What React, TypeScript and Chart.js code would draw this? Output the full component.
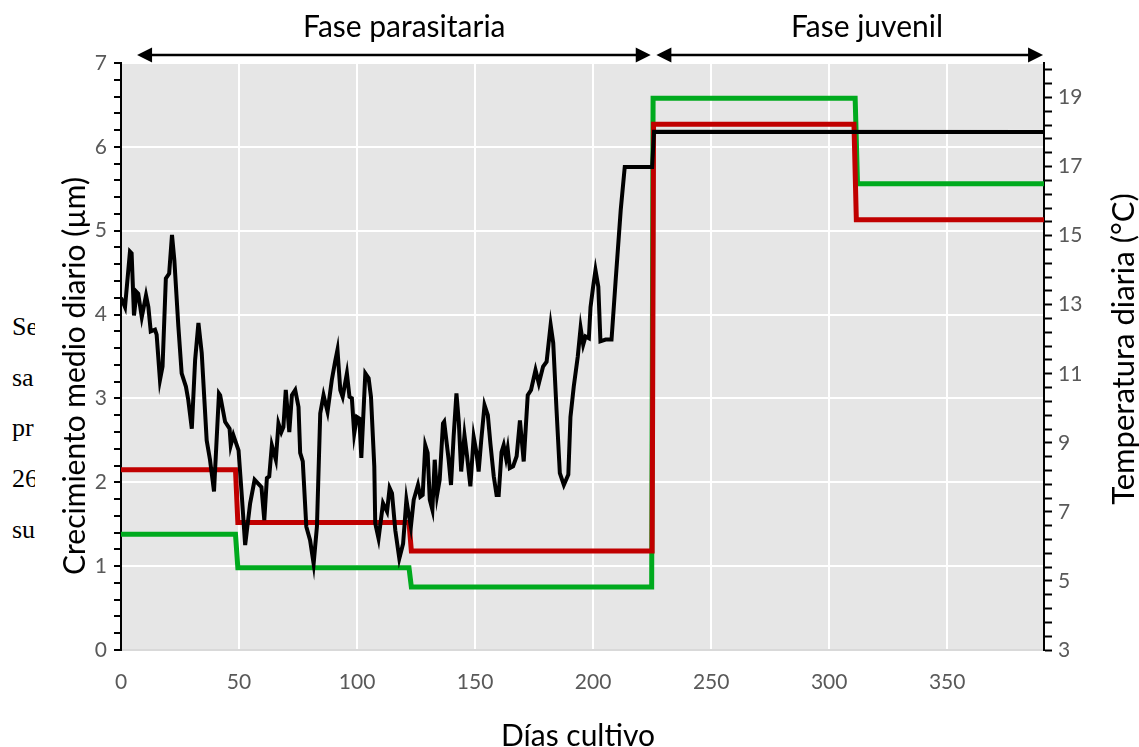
import React, { useEffect, useRef } from 'react';
import { Chart, registerables } from 'chart.js';

Chart.register(...registerables);

// ---- axis ticks ----
const dayTicks = [0, 50, 100, 150, 200, 250, 300, 350];
const growthTicks = [0, 1, 2, 3, 4, 5, 6, 7];
const tempTicks = [3, 5, 7, 9, 11, 13, 15, 17, 19];
const growthMinorStep = 0.2;
const tempMinorStep = 0.4;
const dayMax = 391;

// ---- daily temperature (°C), right axis ----
const tempDays = [
  0, 1.7, 3.8, 4.5, 5.5, 6.6, 7.3, 8.8, 10.6, 11.6, 12.6, 14.4, 15.1, 16.5, 17.6, 19, 20.4, 21.6, 22.6, 24.3,
  25.7, 27.5, 28.5, 30, 31.4, 32.8, 34.2, 36.3, 37.7, 39.4, 41.5, 42, 44.1, 46, 46.5, 47.6, 49.8, 51.2, 52.6, 54.7,
  56.6, 59.5, 60.7, 61.8, 62.8, 63.9, 65.6, 66.7, 67.9, 68.8, 69.8, 71.3, 72.4, 73.8, 75.2, 75.9, 77, 78.5, 80.1, 81.6,
  83, 84.4, 85.8, 87.5, 89.3, 90.7, 91.7, 92.9, 93.9, 95.7, 96.8, 97.8, 98.8, 99.9, 101, 101.8, 103.5, 104.9, 105.9, 107.3,
  107.7, 109.1, 111, 112.7, 113.8, 114.8, 116.2, 117.9, 119.5, 120.9, 121.9, 122.8, 124, 125.8, 126.8, 127.8, 128.9, 129.9, 130.8, 131.9,
  132.9, 133.9, 135, 136.4, 136.9, 138.8, 139.8, 140.9, 142.1, 143.1, 144.1, 145.5, 146.6, 148, 149.4, 150.6, 151.5, 152.6, 154, 155.4,
  156.5, 157.9, 159.1, 160, 161.2, 162.1, 163.1, 163.8, 164.7, 166.1, 167.6, 169, 170.6, 172.3, 173.7, 175.6, 177, 178.8, 180.3, 182,
  183.1, 184.5, 185.9, 187.6, 189.5, 190.4, 191.8, 193.5, 194.7, 195.8, 196.8, 198.2, 198.9, 200, 201, 202.2, 203.1, 205.3, 207.8, 209.5,
  211.7, 213.4, 225, 225.8, 391,
];
const tempValues = [
  13.2, 12.93, 14.54, 14.49, 12.69, 13.37, 13.32, 12.64, 13.27, 12.93, 12.23, 12.28, 12.13, 10.82, 11.21, 13.76, 13.9, 15.02, 14.29, 12.37,
  11.01, 10.63, 10.24, 9.41, 11.4, 12.47, 11.6, 9.07, 8.51, 7.59, 10.43, 10.38, 9.61, 9.41, 8.93, 9.22, 8.78, 7.44, 6.04, 7.25,
  7.93, 7.72, 6.76, 7.98, 8.03, 8.93, 8.51, 9.56, 9.31, 9.46, 10.53, 9.31, 10.38, 10.53, 10.04, 8.71, 8.46, 6.57, 6.18, 5.5,
  6.57, 9.85, 10.38, 9.9, 10.82, 11.35, 11.69, 10.53, 10.33, 11.01, 10.33, 10.29, 9.27, 9.75, 9.7, 8.56, 11.01, 10.87, 10.33, 8.32,
  6.67, 6.23, 7.25, 7.01, 7.69, 7.54, 6.47, 5.65, 6.08, 7.35, 6.91, 6.57, 7.35, 7.78, 7.44, 7.49, 8.93, 8.71, 7.35, 7.06,
  8.51, 7.49, 7.93, 9.56, 9.61, 8.51, 7.78, 9.17, 10.43, 9.61, 8.17, 9.22, 8.61, 7.74, 9.17, 8.71, 8.17, 9.07, 10.09, 9.8,
  8.97, 8.03, 7.49, 7.49, 8.73, 8.93, 8.56, 8.83, 8.27, 8.32, 8.61, 9.65, 8.46, 10.38, 10.53, 11.11, 10.72, 11.21, 11.35, 12.42,
  11.89, 9.95, 8.12, 7.78, 8.08, 9.75, 10.63, 11.5, 12.33, 11.84, 12.08, 12.03, 12.93, 13.52, 14.0, 13.52, 11.94, 11.99, 11.99, 13.66,
  15.75, 16.99, 16.99, 18.01, 18.0,
];

// ---- daily mean growth (µm), left axis ----
const redDays = [0, 48.5, 49.5, 122, 123, 225, 225.6, 310.5, 311.5, 391];
const redGrowth = [2.15, 2.15, 1.52, 1.52, 1.18, 1.18, 6.27, 6.27, 5.13, 5.13];
const greenDays = [0, 48.5, 49.5, 122, 123, 224.8, 225.4, 311, 312, 391];
const greenGrowth = [1.38, 1.38, 0.98, 0.98, 0.75, 0.75, 6.58, 6.58, 5.56, 5.56];

const phaseLabels = ['Fase parasitaria', 'Fase juvenil'];
const phaseFrom = [6.8, 226.8];
const phaseTo = [224.4, 390.6];
const phaseLabelAt = [120, 316];

const xTitle = 'Días cultivo';
const yTitle = 'Crecimiento medio diario (µm)';
const y2Title = 'Temperatura diaria (°C)';

const sideText = ['Se', 'sa', 'pr', '26', 'su'];

const FONT = 'Lato, "Open Sans", sans-serif';

const zip = (xs: number[], ys: number[]) => xs.map((x, i) => ({ x, y: ys[i] }));

const isMult = (v: number, base: number, step: number) => {
  const k = (v - base) / step;
  return Math.abs(k - Math.round(k)) < 1e-6;
};

const decorPlugin = {
  id: 'decor',
  beforeDraw(chart: any) {
    const { ctx, chartArea } = chart;
    ctx.save();
    ctx.fillStyle = '#e6e6e6';
    ctx.fillRect(chartArea.left, chartArea.top, chartArea.right - chartArea.left, chartArea.bottom - chartArea.top);
    ctx.restore();
  },
  afterDraw(chart: any) {
    const { ctx } = chart;
    const xs = chart.scales.x;
    ctx.save();
    ctx.strokeStyle = '#000';
    ctx.fillStyle = '#000';
    ctx.lineWidth = 2.5;
    const ay = 55;
    const hl = 15;
    const hh = 7.5;
    phaseLabels.forEach((label, i) => {
      const x1 = xs.getPixelForValue(phaseFrom[i]);
      const x2 = xs.getPixelForValue(phaseTo[i]);
      ctx.beginPath();
      ctx.moveTo(x1 + hl - 2, ay);
      ctx.lineTo(x2 - hl + 2, ay);
      ctx.stroke();
      ctx.beginPath();
      ctx.moveTo(x1, ay);
      ctx.lineTo(x1 + hl, ay - hh);
      ctx.lineTo(x1 + hl, ay + hh);
      ctx.closePath();
      ctx.fill();
      ctx.beginPath();
      ctx.moveTo(x2, ay);
      ctx.lineTo(x2 - hl, ay - hh);
      ctx.lineTo(x2 - hl, ay + hh);
      ctx.closePath();
      ctx.fill();
      ctx.font = `30px ${FONT}`;
      ctx.textAlign = 'center';
      ctx.textBaseline = 'middle';
      ctx.fillText(label, xs.getPixelForValue(phaseLabelAt[i]), 27);
    });
    // axis titles
    ctx.font = `30px ${FONT}`;
    ctx.textAlign = 'center';
    ctx.textBaseline = 'middle';
    ctx.fillText(xTitle, 578, 736);
    ctx.save();
    ctx.translate(75, 376);
    ctx.rotate(-Math.PI / 2);
    ctx.fillText(yTitle, 0, 0);
    ctx.restore();
    ctx.save();
    ctx.translate(1124, 349);
    ctx.rotate(-Math.PI / 2);
    ctx.font = `31px ${FONT}`;
    ctx.fillText(y2Title, 0, 0);
    ctx.restore();
    ctx.restore();
  },
};

export default function App() {
  const ref = useRef<HTMLCanvasElement | null>(null);

  useEffect(() => {
    if (!ref.current) return;
    const gMin = growthTicks[0];
    const gMax = growthTicks[growthTicks.length - 1];
    const tMin = tempTicks[0];
    const tMax = 20;
    const chart = new Chart(ref.current, {
      type: 'line',
      data: {
        datasets: [
          {
            label: y2Title,
            data: zip(tempDays, tempValues),
            yAxisID: 'y2',
            borderColor: '#000000',
            borderWidth: 4,
            pointRadius: 0,
            tension: 0,
          },
          {
            label: 'Crecimiento 1',
            data: zip(redDays, redGrowth),
            yAxisID: 'y',
            borderColor: '#c00000',
            borderWidth: 5,
            pointRadius: 0,
            tension: 0,
          },
          {
            label: 'Crecimiento 2',
            data: zip(greenDays, greenGrowth),
            yAxisID: 'y',
            borderColor: '#00aa1e',
            borderWidth: 5,
            pointRadius: 0,
            tension: 0,
          },
        ],
      },
      options: {
        responsive: false,
        animation: false,
        events: [],
        layout: { padding: { top: 63, left: 0, right: 0, bottom: 0 } },
        plugins: { legend: { display: false }, tooltip: { enabled: false } },
        scales: {
          x: {
            type: 'linear',
            min: 0,
            max: dayMax,
            afterBuildTicks: (s: any) => {
              s.ticks = dayTicks.map((v) => ({ value: v }));
            },
            afterFit: (s: any) => {
              s.height = 97;
            },
            grid: { color: '#ffffff', lineWidth: 2, drawTicks: false },
            border: { display: true, color: '#d9d9d9', width: 2 },
            ticks: {
              padding: 20,
              color: '#595959',
              font: { family: FONT, size: 21 },
              maxRotation: 0,
              autoSkip: false,
            },
          },
          y: {
            type: 'linear',
            position: 'left',
            min: gMin,
            max: gMax,
            afterBuildTicks: (s: any) => {
              const t: any[] = [];
              const n = Math.round((gMax - gMin) / growthMinorStep);
              for (let i = 0; i <= n; i++) t.push({ value: +(gMin + i * growthMinorStep).toFixed(4) });
              s.ticks = t;
            },
            afterFit: (s: any) => {
              s.width = 121;
            },
            grid: {
              color: (c: any) => {
                const v = c.tick ? c.tick.value : 0;
                if (v === gMin) return 'rgba(0,0,0,0)';
                return growthTicks.some((g) => Math.abs(g - v) < 1e-6) ? '#ffffff' : 'rgba(0,0,0,0)';
              },
              lineWidth: 2,
              tickColor: '#000000',
              tickLength: 7,
              tickWidth: 2,
            },
            border: { display: true, color: '#000000', width: 2 },
            ticks: {
              autoSkip: false,
              padding: 7,
              color: '#595959',
              font: { family: FONT, size: 21 },
              callback: (v: any) => (growthTicks.some((g) => Math.abs(g - v) < 1e-6) ? String(Math.round(v)) : ''),
            },
          },
          y2: {
            type: 'linear',
            position: 'right',
            min: tMin,
            max: tMax,
            afterBuildTicks: (s: any) => {
              const t: any[] = [];
              const n = Math.floor((tMax - tMin) / tempMinorStep + 1e-6);
              for (let i = 0; i <= n; i++) t.push({ value: +(tMin + i * tempMinorStep).toFixed(4) });
              s.ticks = t;
            },
            afterFit: (s: any) => {
              s.width = 95;
            },
            grid: {
              drawOnChartArea: false,
              color: '#000000',
              tickColor: '#000000',
              tickLength: 8,
              tickWidth: 2,
            },
            border: { display: true, color: '#000000', width: 2 },
            ticks: {
              autoSkip: false,
              padding: 6,
              color: '#595959',
              font: { family: FONT, size: 21 },
              callback: (v: any) =>
                tempTicks.some((g) => Math.abs(g - v) < 1e-6) && isMult(v, tMin, 2) ? String(Math.round(v)) : '',
            },
          },
        },
      },
      plugins: [decorPlugin],
    });
    return () => chart.destroy();
  }, []);

  return (
    <div style={{ position: 'absolute', left: 0, top: 0, width: 1139, height: 747, background: '#ffffff' }}>
      <div
        style={{
          position: 'absolute',
          left: 0,
          top: 0,
          width: 35,
          height: 747,
          overflow: 'hidden',
          fontFamily: '"Liberation Serif", "Times New Roman", serif',
          fontSize: 26,
          color: '#000',
        }}
      >
        {sideText.map((t, i) => (
          <div key={i} style={{ position: 'absolute', left: 12, top: 312 + i * 50.7, lineHeight: '30px', whiteSpace: 'nowrap' }}>
            {t}
          </div>
        ))}
      </div>
      <canvas ref={ref} width={1139} height={747} style={{ position: 'absolute', left: 0, top: 0 }} />
    </div>
  );
}
